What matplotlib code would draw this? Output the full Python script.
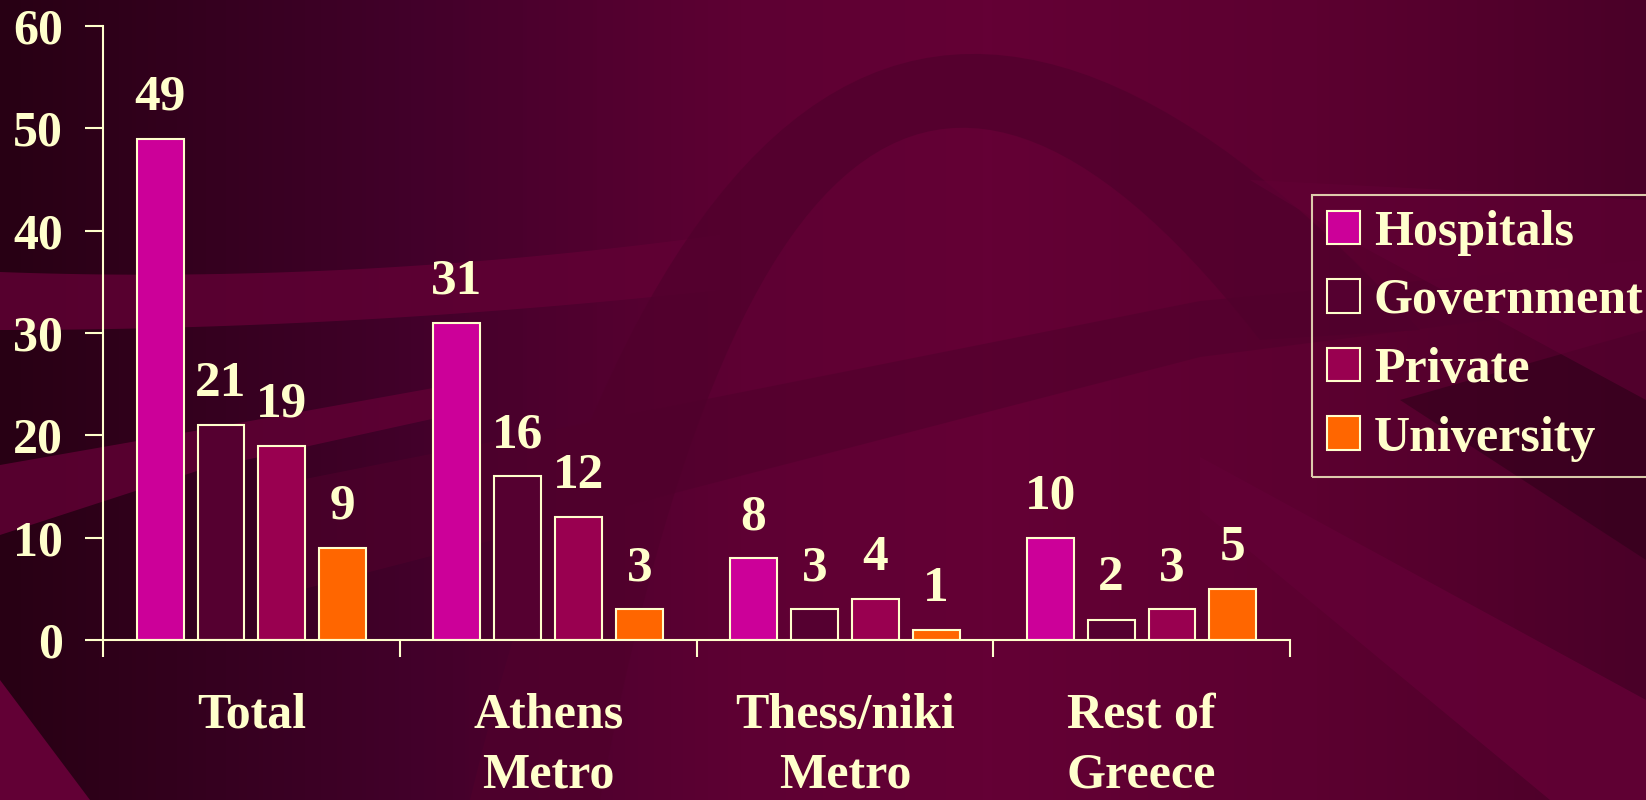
import matplotlib

matplotlib.use("Agg")
import matplotlib.pyplot as plt
import numpy as np
from matplotlib.colors import LinearSegmentedColormap
from matplotlib.patches import Polygon

plt.rcParams.update({
    "font.family": ["Liberation Serif", "DejaVu Serif"],
    "font.weight": "bold",
})

CATEGORIES = ["Total", "Athens\nMetro", "Thess/niki\nMetro", "Rest of\nGreece"]
SERIES = ["Hospitals", "Government", "Private", "University"]
HOSPITALS = [49, 31, 8, 10]
GOVERNMENT = [21, 16, 3, 2]
PRIVATE = [19, 12, 4, 3]
UNIVERSITY = [9, 3, 1, 5]
Y_TICKS = [0, 10, 20, 30, 40, 50, 60]

COLORS = ["#cc0099", "#550030", "#990050", "#ff6600"]
CREAM = "#ffffcc"
W, H = 1646, 800


def _bezier(p0, p1, p2, n=60):
    t = np.linspace(0, 1, n)[:, None]
    p0, p1, p2 = map(np.asarray, (p0, p1, p2))
    return (1 - t) ** 2 * p0 + 2 * t * (1 - t) * p1 + t ** 2 * p2


def draw_background(fig):
    bg = fig.add_axes([0, 0, 1, 1], zorder=-10)
    bg.set_xlim(0, W)
    bg.set_ylim(H, 0)
    bg.axis("off")
    cmap = LinearSegmentedColormap.from_list(
        "bg", [(0.0, "#280014"), (0.25, "#42002a"), (0.45, "#5e0033"),
               (0.6, "#640035"), (0.8, "#5c0030"), (1.0, "#4a0028")])
    grad = np.tile(np.linspace(0, 1, 400), (50, 1))
    bg.imshow(grad, cmap=cmap, extent=[0, W, H, 0], aspect="auto")
    light = "#620035"
    dark = "#50002c"

    # smooth arc swoosh
    outer = _bezier((470, 800), (760, -400), (1420, 330))
    inner = _bezier((600, 800), (800, -250), (1260, 340))
    arc = np.vstack([outer, inner[::-1]])

    shapes = [
        # left swoosh bands
        (_bezier((0, 272), (350, 285), (720, 235)).tolist()
         + _bezier((720, 290), (350, 330), (0, 330)).tolist(), light, 0.8),
        ([(0, 465), (200, 430), (450, 385), (450, 415), (200, 470), (0, 535)], light, 0.8),
        ([(0, 680), (90, 800), (0, 800)], light, 1.0),
        (arc.tolist(), dark, 0.7),
        # straight band
        ([(300, 480), (1200, 301), (1646, 260), (1646, 300), (1200, 357), (300, 590)], dark, 0.6),
        # lower right stripes
        ([(1400, 400), (1646, 330), (1646, 560)], "#30001a", 0.6),
        ([(1200, 457), (1646, 700), (1646, 800), (1550, 800), (1200, 510)], light, 0.9),
        ([(1250, 180), (1646, 200), (1646, 400), (1350, 240)], light, 0.6),
    ]
    for pts, col, a in shapes:
        bg.add_patch(Polygon(pts, closed=True, facecolor=col, edgecolor="none", alpha=a))


def main():
    fig = plt.figure(figsize=(W / 100, H / 100), dpi=100)
    draw_background(fig)

    ax = fig.add_axes([103 / W, 1 - 640 / H, (1290 - 103) / W, (640 - 26) / H])
    ax.set_facecolor("none")

    x = np.arange(len(CATEGORIES)) + 0.5
    width = 0.158
    step = 0.205
    values = [HOSPITALS, GOVERNMENT, PRIVATE, UNIVERSITY]
    for i, (name, vals) in enumerate(zip(SERIES, values)):
        bars = ax.bar(x + (i - 1.5) * step, vals, width=width, color=COLORS[i],
                      edgecolor=CREAM, linewidth=1.5, label=name)
        ax.bar_label(bars, padding=13, color=CREAM, fontsize=37, fontweight="bold")

    ax.set_xlim(0, len(CATEGORIES))
    ax.set_ylim(0, 60)
    ax.set_yticks(Y_TICKS)
    ax.set_xticks(np.arange(len(CATEGORIES) + 1))
    ax.set_xticklabels([])
    ax.set_xticks(x, minor=True)
    ax.set_xticklabels(CATEGORIES, minor=True, linespacing=1.4)

    for s in ["top", "right"]:
        ax.spines[s].set_visible(False)
    for s in ["left", "bottom"]:
        ax.spines[s].set_color(CREAM)
        ax.spines[s].set_linewidth(1.5)

    ax.tick_params(axis="y", direction="out", length=13, width=1.5, color=CREAM,
                   labelcolor=CREAM, labelsize=36, pad=16)
    ax.tick_params(axis="x", which="major", direction="out", length=12, width=1.5, color=CREAM)
    ax.tick_params(axis="x", which="minor", length=0, labelcolor=CREAM, labelsize=36, pad=38)

    leg = fig.legend(loc="upper left", bbox_to_anchor=(1312 / W, 1 - 195 / H),
                     prop={"size": 36, "weight": "bold"}, labelcolor=CREAM,
                     frameon=True, fancybox=False, handlelength=0.66, handleheight=0.66,
                     handletextpad=0.28, labelspacing=0.45, borderpad=0.3, borderaxespad=0)
    leg.get_frame().set_facecolor("none")
    leg.get_frame().set_edgecolor(CREAM)
    leg.get_frame().set_linewidth(1.5)

    fig.savefig("out.png", dpi=100, facecolor="#3c0020")
    plt.close(fig)
    return 0


if __name__ == "__main__":
    raise SystemExit(main())
